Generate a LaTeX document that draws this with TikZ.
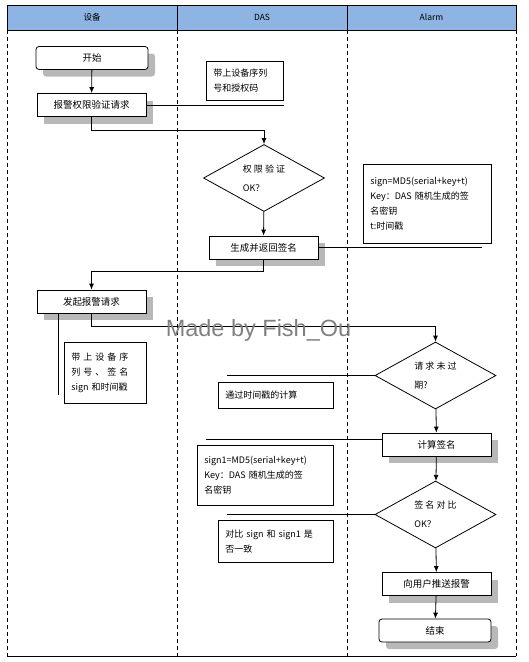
\documentclass[tikz,border=0pt]{standalone}
\usepackage{fontspec}
\setmainfont{Noto Sans CJK SC}
\newfontfamily\markfont{Liberation Sans}
\usetikzlibrary{shapes.geometric,arrows.meta,shadows}

\definecolor{headblue}{RGB}{141,180,226}
\definecolor{markgray}{RGB}{128,128,128}

\tikzset{
  lane/.style={draw, dash pattern=on 4pt off 3pt, line width=0.7pt},
  procbox/.style={draw, fill=white, line width=0.8pt, minimum width=109pt, minimum height=23pt,
    inner sep=0pt, font=\fontsize{9.5}{11}\selectfont,
    drop shadow={shadow xshift=7pt, shadow yshift=-7pt, fill=black!28, opacity=1}},
  termbox/.style={procbox, rounded corners=3pt, minimum width=112pt},
  notebox/.style={draw, fill=white, line width=0.8pt, align=left, anchor=north west,
    inner xsep=7pt, inner ysep=5pt, font=\fontsize{9}{15}\selectfont},
  decide/.style={draw, diamond, fill=white, line width=0.8pt, shape aspect=2,
    minimum width=121pt, minimum height=67pt, inner sep=0pt, align=left,
    font=\fontsize{9}{19}\selectfont},
  flow/.style={-{Latex[length=6pt,width=5pt]}, line width=0.8pt},
  link/.style={line width=0.8pt},
}

\begin{document}
\begin{tikzpicture}[x=1pt, y=-1pt]
  \useasboundingbox (0,0) rectangle (529,662);

  % swim lanes
  \fill[headblue] (7,5) rectangle (516,30);
  \draw[link] (7,5) rectangle (516,30);
  \draw[link] (177,5) -- (177,30);
  \draw[link] (347,5) -- (347,30);
  \node[font=\fontsize{8.5}{10}\selectfont] (lanedev) at (92,17.5) {设备};
  \node[font=\fontsize{8.5}{10}\selectfont] (lanedas) at (262,17.5) {DAS};
  \node[font=\fontsize{8.5}{10}\selectfont] (lanealarm) at (431.5,17.5) {Alarm};
  \foreach \x in {7,177,347,516}
    \draw[lane] (\x,30) -- (\x,656);
  \draw[link] (7,656) -- (516,656);

  % device lane
  \node[termbox] (start) at (92,58) {开始};
  \node[procbox] (authreq) at (91.5,105) {报警权限验证请求};
  \node[procbox] (alarmreq) at (91.5,301.5) {发起报警请求};
  \node[notebox, text width=68pt, minimum height=61pt] (note3) at (64,342)
    {带 上 设 备 序\\列 号 、 签 名\\sign 和时间戳};

  % DAS lane
  \node[notebox, text width=63pt, minimum height=39pt] (note1) at (206,61)
    {带上设备序列\\号和授权码};
  \node[decide] (authchk) at (264,178) {权 限 验 证\\OK？};
  \node[procbox] (gensign) at (263.5,247.5) {生成并返回签名};
  \node[notebox, text width=101pt, minimum height=26pt, inner ysep=3pt] (note4) at (218,382)
    {通过时间戳的计算};
  \node[notebox, text width=122pt, minimum height=60pt] (note5) at (197,445)
    {sign1=MD5(serial+key+t)\\Key：DAS 随机生成的签\\名密钥};
  \node[notebox, text width=101pt, minimum height=42pt] (note6) at (218,520)
    {对比 sign 和 sign1 是\\否一致};

  % Alarm lane
  \node[notebox, text width=114pt, minimum height=79pt] (note2) at (363,164)
    {sign=MD5(serial+key+t)\\Key：DAS 随机生成的签\\名密钥\\t:时间戳};
  \node[decide] (expchk) at (435.5,375.5) {请 求 未 过\\期?};
  \node[procbox] (calcsign) at (436.5,444.5) {计算签名};
  \node[decide] (cmpchk) at (435.5,514.5) {签 名 对 比\\OK？};
  \node[procbox] (push) at (436.5,584) {向用户推送报警};
  \node[termbox] (endn) at (435,630.5) {结束};

  % loose ends of the note lines
  \coordinate (tail2) at (482,249);
  \coordinate (tail3) at (58,395);
  \coordinate (tail4) at (227,376);
  \coordinate (tail5) at (206,439);
  \coordinate (tail6) at (227,514);

  % main flow
  \draw[flow] (start) -- (authreq);
  \draw[flow] (authreq.south) -- ++(0,13) -| (authchk.north);
  \draw[flow] (authchk) -- (gensign);
  \draw[flow] (gensign.south) -- ++(0,12) -| (alarmreq.north);
  \draw[flow] (alarmreq.south) -- ++(0,13) -| (expchk.north);
  \draw[flow] (expchk) -- (calcsign);
  \draw[flow] (calcsign) -- (cmpchk);
  \draw[flow] (cmpchk) -- (push);
  \draw[flow] (push) -- (endn);

  % note lines
  \draw[link] (authreq.east) -- (authreq.east -| note1.east);
  \draw[link] (gensign.east) -- (gensign.east -| tail2);
  \draw[link] (alarmreq.south -| tail3) -- (tail3);
  \draw[link] (expchk.west) -- (expchk.west -| tail4);
  \draw[link] (calcsign.west |- tail5) -- (tail5);
  \draw[link] (cmpchk.west) -- (cmpchk.west -| tail6);

  % watermark
  \node[text=markgray, font=\markfont\fontsize{23.5}{24}\selectfont] (mark) at (258.5,330) {Made by Fish\_Ou};
\end{tikzpicture}
\end{document}
